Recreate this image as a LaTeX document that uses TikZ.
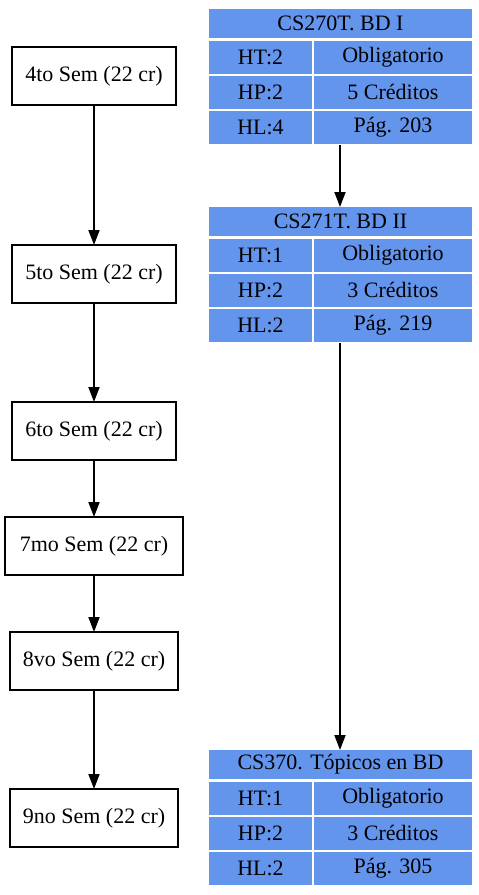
\documentclass[tikz,border=0pt]{standalone}
\usepackage{fontspec}
\setmainfont{Liberation Serif}
\usetikzlibrary{arrows.meta,fit}
\definecolor{cblue}{HTML}{6495ED}
\tikzset{
  sembox/.style={draw=black, line width=1.8pt, fill=white, inner sep=0pt, outer sep=0pt,
    font=\fontsize{22}{26}\selectfont, align=center},
  cell/.style={fill=cblue, draw=none, inner sep=0pt, outer sep=0pt, anchor=north west,
    font=\fontsize{22}{26}\selectfont, text=black},
  hcell/.style={cell, minimum width=263pt, minimum height=29pt},
  lcell/.style={cell, minimum width=103pt, minimum height=33pt},
  rcell/.style={cell, minimum width=158pt, minimum height=33pt},
  tabfit/.style={inner sep=0pt, outer sep=0pt, draw=none},
  arr/.style={draw=black, line width=1.8pt, -{Triangle[length=15pt,width=11pt]}}
}
\begin{document}
\begin{tikzpicture}[x=1pt,y=-1pt]
\useasboundingbox (0,0) rectangle (479,895);

% semester boxes
\node[sembox, minimum width=164pt, minimum height=58pt] (s4) at (94,76) {4to Sem (22 cr)};
\node[sembox, minimum width=164pt, minimum height=58pt] (s5) at (94,274) {5to Sem (22 cr)};
\node[sembox, minimum width=164pt, minimum height=58pt] (s6) at (94,431) {6to Sem (22 cr)};
\node[sembox, minimum width=178pt, minimum height=58pt] (s7) at (94,546) {7mo Sem (22 cr)};
\node[sembox, minimum width=168pt, minimum height=58pt] (s8) at (94,661) {8vo Sem (22 cr)};
\node[sembox, minimum width=168pt, minimum height=58pt] (s9) at (94,818) {9no Sem (22 cr)};

\draw[arr] (s4) -- (s5);
\draw[arr] (s5) -- (s6);
\draw[arr] (s6) -- (s7);
\draw[arr] (s7) -- (s8);
\draw[arr] (s8) -- (s9);

% table 1
\node[hcell] (a0) at (209,9) {CS270T. BD I};
\node[lcell] (a1l) at (209,40.5) {HT:2};
\node[rcell] (a1r) at (314,40.5) {Obligatorio};
\node[lcell] (a2l) at (209,75.5) {HP:2};
\node[rcell] (a2r) at (314,75.5) {5 Créditos};
\node[lcell] (a3l) at (209,110.5) {HL:4};
\node[rcell] (a3r) at (314,110.5) {Pág. 203};
\node[tabfit, fit=(a0)(a3l)(a3r)] (ta) {};

% table 2
\node[hcell] (b0) at (209,207) {CS271T. BD II};
\node[lcell] (b1l) at (209,238.5) {HT:1};
\node[rcell] (b1r) at (314,238.5) {Obligatorio};
\node[lcell] (b2l) at (209,273.5) {HP:2};
\node[rcell] (b2r) at (314,273.5) {3 Créditos};
\node[lcell] (b3l) at (209,308.5) {HL:2};
\node[rcell] (b3r) at (314,308.5) {Pág. 219};
\node[tabfit, fit=(b0)(b3l)(b3r)] (tb) {};

% table 3
\node[hcell] (c0) at (209,750) {CS370. Tópicos en BD};
\node[lcell] (c1l) at (209,781.5) {HT:1};
\node[rcell] (c1r) at (314,781.5) {Obligatorio};
\node[lcell] (c2l) at (209,816.5) {HP:2};
\node[rcell] (c2r) at (314,816.5) {3 Créditos};
\node[lcell] (c3l) at (209,851.5) {HL:2};
\node[rcell] (c3r) at (314,851.5) {Pág. 305};
\node[tabfit, fit=(c0)(c3l)(c3r)] (tc) {};

\draw[arr] (ta.south) ++(-0.5,1.5) coordinate (ta1) (ta1) -- (ta1 |- tb.north);
\draw[arr] (tb.south) ++(-0.5,1.5) coordinate (tb1) (tb1) -- (tb1 |- tc.north);
\end{tikzpicture}
\end{document}
